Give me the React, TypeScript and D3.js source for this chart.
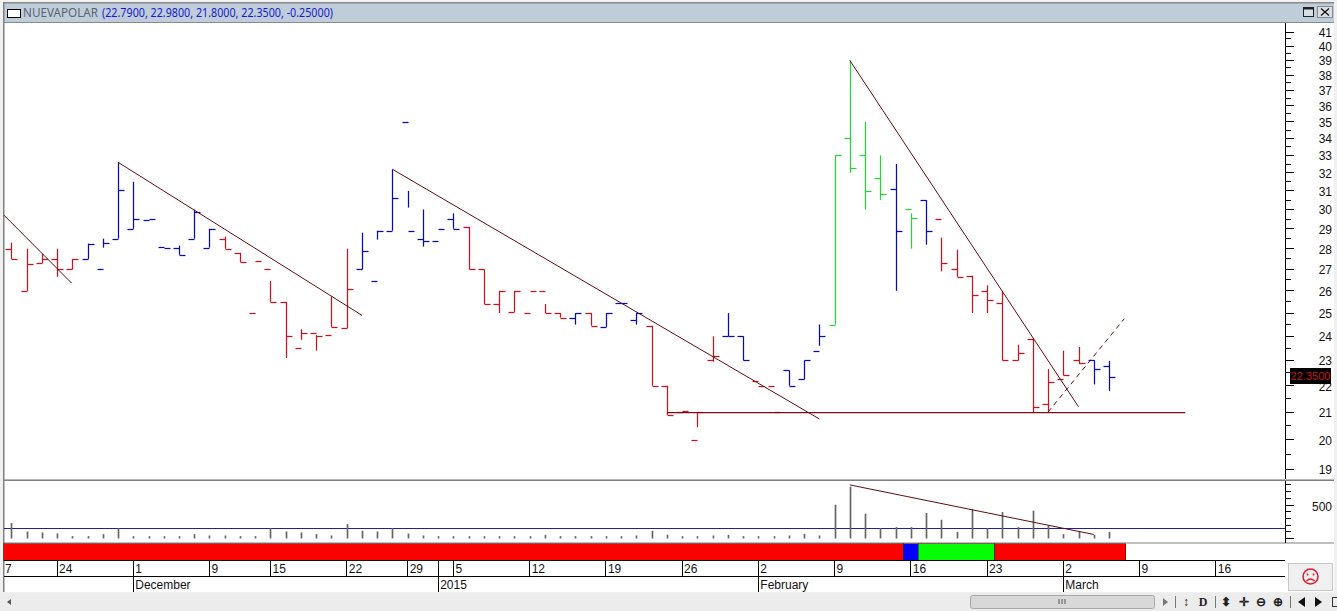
import * as d3 from 'd3';
import * as React from 'react';

const title = 'NUEVAPOLAR';
const titleValues = '(22.7900, 22.9800, 21.8000, 22.3500, -0.25000)';
const lastPrice = 22.35;

const opens = [28, 26, 27.3, 27.5, 27, 27.5, 27, 28.5, 29, 29.45, 28.1, 28.05, 28.5, 28.05, 28.5, 27.8, 25, 27, 25.5, 23.5, 24.15, 24.05, 24.35, 27, 26.45, 28.9, 35, 28.5, 28.4, 29.5, 29.1, 27, 25.4, 25.05, 25, 26, 25, 24.8, 25, 24.4, 25.45, 24.7, 24.45, 22, 21, 20, 23, 24, 24, 22.2, 22, 22.6, 22.25, 23.4, 24.5, 34, 33, 31.7, 31.1, 30, 30.5, 29.5, 27, 26.7, 26, 25.45, 23, 23.9, 21.3, 22.25, 23, 23, 22.79];
const highs = [28.3, 28, 27.75, 28, 27.5, 28.25, 28.5, 32.6, 31.5, 29.5, 28.1, 28.15, 30, 29, 28.6, 27.8, 27.4, 26.45, 25.5, 24.3, 24.05, 25.75, 28, 28.8, 28.9, 32.2, 31, 30, 29, 29.8, 29.1, 27, 26, 26, 26, 25.4, 25, 25, 25, 25, 25.45, 25, 24.45, 22, 21.05, 21, 24, 25, 24, 22, 21, 22.6, 23, 24.5, 33, 39, 35, 33, 32.5, 29.8, 30.5, 28.55, 27.95, 26.7, 26.25, 26, 23.65, 23.9, 22.65, 23.4, 23.55, 23, 22.98];
const lows = [27.5, 26, 27.3, 26.65, 27, 27.5, 28.05, 28.5, 29, 29.5, 28.1, 27.7, 28.5, 28.05, 28, 27.35, 27.4, 25.5, 23.1, 23.85, 23.4, 24.4, 24.35, 27, 28.45, 28.9, 30.1, 28.1, 29, 29, 27, 25.4, 25, 25.05, 26, 25, 24.8, 24.5, 24.45, 24.4, 25.45, 24.5, 22, 20.9, 21.05, 20.45, 22.95, 24, 23, 22, 21, 22, 22.25, 23.6, 24.5, 32, 30, 30.5, 26, 28, 28.2, 26.9, 26.65, 25, 25, 23, 23, 21, 21, 22.4, 22.85, 22.05, 21.8];
const closes = [27.5, 27.25, 27.5, 27, 27.5, 28.25, 28.3, 31.05, 29.5, 29.5, 28.05, 27.7, 29.85, 29, 28, 27.35, 27.4, 25.5, 24, 24.15, 24, 24.4, 26.1, 27.9, 28.9, 30.6, 28.9, 28.4, 29, 29, 27, 25.4, 26, 26, 26, 25, 24.8, 25, 24.45, 25, 25.45, 25, 22, 20.9, 21.05, 21, 23.2, 24, 23, 22, 21, 22, 23, 24, 33, 32.3, 31, 30.85, 28.9, 29.55, 28.9, 27.3, 26.65, 25.8, 25.6, 23, 23.3, 21.2, 22.15, 22.4, 22.9, 22.65, 22.35];
const barStates = 'rrrrrbbbbbbbbbrrrrrrrrrbbbbbbbrrrrrrrbrbbbrrrrrbbrrbbbggggbgbrrrrrrrrrrbb';
const volumes = [230, 105, 90, 75, 35, 35, 65, 155, 35, 35, 35, 35, 65, 45, 45, 35, 35, 155, 105, 90, 65, 45, 215, 115, 105, 155, 75, 45, 35, 35, 35, 35, 35, 35, 35, 55, 35, 35, 35, 35, 35, 45, 115, 55, 35, 35, 45, 55, 35, 35, 35, 45, 70, 45, 505, 775, 370, 155, 170, 170, 380, 280, 100, 435, 155, 395, 170, 415, 195, 65, 105, 55, 100];

const priceTicks = d3.range(19, 42);
const priceMinorTicks = d3.range(19.5, 41.5, 1);
const volumeTicks = [0, 500];
const volumeMinorTicks = [100, 200, 300, 400, 600, 700, 800];
const volumeAverage = 150;

// [index, price, index, price]
const trendLines = [
  [-0.48, 29.7, 3.96, 26.35],
  [7, 32.6, 23, 24.9],
  [25, 32.2, 53, 20.75],
  [55, 39, 70, 21.2],
];
const supportLine = [43, 21, 77, 21];
const dashedLine = [68, 21, 73, 24.75];
const volumeTrend = [55, 800, 71, 60];

const bandRuns: [string, number][] = [['#ff0000', 59], ['#0000ff', 1], ['#00ff00', 5], ['#ff0000', 8.6]];

const weekLabels = ['24', '1', '9', '15', '22', '29', '', '5', '12', '19', '26', '2', '9', '16', '23', '2', '9', '16'];
const weekIndex = [3, 8, 13, 17, 22, 26, 28, 29, 34, 39, 44, 49, 54, 59, 64, 69, 74, 79];
const monthLabels = ['December', '2015', 'February', 'March'];
const monthIndex = [8, 28, 49, 69];

const stateColor = { r: '#c8141e', b: '#0a0ab4', g: '#28d23c' };
const axisFont = '"Liberation Sans", Arial, sans-serif';
const titleFont = '"Noto Sans", sans-serif';

const left = 4;
const right = 1285;

const x = d3.scaleLinear().domain([0, 72]).range([11.3, 1109]);
const y = d3.scaleLog().domain([19, 41]).range([469, 32]);
const yVol = d3.scaleLinear().domain([0, 500]).range([538.5, 505]);

// bars sit on whole pixels, the source chart has no sub-pixel drawing
const snap = (v: number) => Math.round(v) + 0.5;

const App = () => {
  const bars = opens.map((open, i) => ({
    i,
    open,
    high: highs[i],
    low: lows[i],
    close: closes[i],
    color: stateColor[barStates[i]],
  }));

  let bandStart = -0.5;
  const bands = bandRuns.map(([color, n]) => {
    const band = { color, x0: x(bandStart), x1: x(bandStart + n) };
    bandStart += n;
    return band;
  });

  const line = (l: number[], yScale: (v: number) => number) => ({
    x1: x(l[0]),
    y1: yScale(l[1]),
    x2: x(l[2]),
    y2: yScale(l[3]),
  });

  return (
    <svg
      width={1337}
      height={611}
      style={{ position: 'fixed', left: 0, top: 0, background: '#f0f0f0' }}
    >
      {/* window frame */}
      <rect x={3} y={2} width={1331} height={21} fill="#bfcddb" />
      <rect x={3} y={2} width={1331} height={1.5} fill="#8a8a8a" />
      <rect x={3} y={22} width={1331} height={1} fill="#8a8a8a" />
      <rect x={4} y={23} width={1330} height={456} fill="#fff" />
      <rect x={4} y={481} width={1330} height={62} fill="#fff" />
      <rect x={4} y={543} width={1330} height={49} fill="#fff" />
      <rect x={3} y={2} width={1.5} height={590} fill="#808080" />
      <rect x={3} y={479.5} width={1331} height={1.5} fill="#808080" />
      <rect x={3} y={542.5} width={1331} height={1} fill="#808080" />

      <rect x={7.5} y={9.5} width={13} height={8} fill="#fff" stroke="#000" strokeWidth={1} />
      <text x={23} y={17} fontFamily={titleFont} fontSize={12} fill="#5a6470" textLength={75} lengthAdjust="spacingAndGlyphs">{title}</text>
      <text x={102} y={17} fontFamily={titleFont} fontSize={12} fill="#1a1ac8" textLength={231} lengthAdjust="spacingAndGlyphs">{titleValues}</text>
      <rect x={1303.5} y={7.5} width={10} height={9} fill="#d8dee6" stroke="#222" />
      <rect x={1303.5} y={7.5} width={10} height={2} fill="#222" />
      <rect x={1317.5} y={6.5} width={15} height={11} fill="#d8dee6" stroke="#8a8a8a" />
      <path d="M1321 8.5L1329 15.5M1329 8.5L1321 15.5" stroke="#111" strokeWidth={1.3} />

      {/* price axis */}
      <g shapeRendering="crispEdges" stroke="#000">
        <line x1={right} x2={right} y1={23} y2={479} strokeWidth={1} />
        {priceTicks.map((t) => (
          <line key={t} x1={right} x2={1294} y1={y(t)} y2={y(t)} />
        ))}
        {priceMinorTicks.map((t) => (
          <line key={t} x1={right} x2={1291} y1={y(t)} y2={y(t)} />
        ))}
      </g>
      {priceTicks.map((t) => (
        <text key={t} x={1332} y={y(t) + 5} textAnchor="end" fontFamily={axisFont} fontSize={12} fill="#111">{t}</text>
      ))}
      <rect x={1290} y={368} width={41} height={16} fill="#000" />
      <text x={1310.5} y={y(lastPrice) + 3.5} textAnchor="middle" fontFamily={axisFont} fontSize={11} fill="#c8141e">
        {d3.format('.4f')(lastPrice)}
      </text>

      {/* ohlc bars */}
      <g strokeWidth={1.25}>
        {bars.map((b) => (
          <g key={b.i} stroke={b.color}>
            {b.high !== b.low && <line x1={snap(x(b.i))} x2={snap(x(b.i))} y1={y(b.high)} y2={y(b.low)} />}
            <line x1={snap(x(b.i)) - 6} x2={snap(x(b.i))} y1={snap(y(b.open))} y2={snap(y(b.open))} />
            <line x1={snap(x(b.i))} x2={snap(x(b.i)) + 6} y1={snap(y(b.close))} y2={snap(y(b.close))} />
          </g>
        ))}
      </g>

      {/* trend lines */}
      <g stroke="#5c0d12" strokeWidth={1} fill="none">
        {trendLines.map((l, i) => (
          <line key={i} {...line(l, y)} />
        ))}
        <line {...line(supportLine, y)} y1={snap(y(21))} y2={snap(y(21))} strokeWidth={1.25} stroke="#7a0c12" />
        <line {...line(dashedLine, y)} strokeDasharray="5 4" />
      </g>

      {/* volume */}
      <line x1={left} x2={right} y1={snap(yVol(volumeAverage))} y2={snap(yVol(volumeAverage))} stroke="#20209c" />
      {volumes.map((v, i) => (
        <line key={i} x1={snap(x(i))} x2={snap(x(i))} y1={yVol(0)} y2={yVol(v)} stroke="#666" strokeWidth={1.7} />
      ))}
      <line {...line(volumeTrend, yVol)} stroke="#5c0d12" strokeWidth={1} />
      <g shapeRendering="crispEdges" stroke="#000">
        <line x1={right} x2={right} y1={481} y2={543} />
        {volumeTicks.map((t) => (
          <line key={t} x1={right} x2={1294} y1={yVol(t)} y2={yVol(t)} />
        ))}
        {volumeMinorTicks.map((t) => (
          <line key={t} x1={right} x2={1291} y1={yVol(t)} y2={yVol(t)} />
        ))}
      </g>
      <text x={1332} y={511} textAnchor="end" fontFamily={axisFont} fontSize={12} fill="#111">500</text>

      {/* state band */}
      <g shapeRendering="crispEdges">
        {bands.map((b, i) => (
          <rect key={i} x={b.x0} y={543.5} width={b.x1 - b.x0} height={16.5} fill={b.color} stroke="#400" strokeWidth={0.5} />
        ))}
      </g>

      {/* date axis */}
      <g shapeRendering="crispEdges" stroke="#000">
        <line x1={left} x2={right} y1={560.5} y2={560.5} />
        <line x1={left} x2={right} y1={576.5} y2={576.5} />
        {weekIndex.map((d) => (
          <line key={d} x1={x(d)} x2={x(d)} y1={561} y2={576} />
        ))}
        {monthIndex.map((d) => (
          <line key={d} x1={x(d)} x2={x(d)} y1={561} y2={592} />
        ))}
      </g>
      <g fontFamily={axisFont} fontSize={12} fill="#111">
        <text x={5} y={573}>7</text>
        {weekLabels.map((label, i) => (
          <text key={i} x={x(weekIndex[i]) + 2} y={573}>{label}</text>
        ))}
        {monthLabels.map((label, i) => (
          <text key={label} x={x(monthIndex[i]) + 2} y={589}>{label}</text>
        ))}
      </g>

      {/* sad face button */}
      <rect x={1288.5} y={563.5} width={44} height={27} fill="#f0f0f0" stroke="#c8c8c8" />
      <circle cx={1310.5} cy={576.5} r={7.5} fill="none" stroke="#e01830" strokeWidth={1.5} />
      <circle cx={1307.5} cy={574.5} r={1} fill="#e01830" />
      <circle cx={1313.5} cy={574.5} r={1} fill="#e01830" />
      <path d="M1306.5 581Q1310.5 577 1314.5 581" fill="none" stroke="#e01830" strokeWidth={1.3} />

      {/* scrollbar and toolbar */}
      <rect x={0} y={593} width={1337} height={18} fill="#ececec" />
      <path d="M11 599L7 602L11 605Z" fill="#555" />
      <rect x={970.5} y={595.5} width={184} height={13} rx={2} fill="#d8d8d8" stroke="#a8a8a8" />
      <path d="M1059 599V604M1062 599V604M1065 599V604" stroke="#555" />
      <path d="M1163 598L1168 602L1163 606Z" fill="#777" />
      <g stroke="#777" shapeRendering="crispEdges">
        <line x1={1175} x2={1175} y1={596} y2={608} />
        <line x1={1215} x2={1215} y1={596} y2={608} />
        <line x1={1290} x2={1290} y1={596} y2={608} />
      </g>
      <g fontFamily={axisFont} fontSize={12} fontWeight="bold" fill="#222" textAnchor="middle">
        <text x={1186} y={606}>↕</text>
        <text x={1203} y={606} fontFamily='"Liberation Serif", serif'>D</text>
        <text x={1226} y={606}>⬍</text>
        <text x={1244} y={606}>✛</text>
        <text x={1261} y={606}>⊖</text>
        <text x={1278} y={606}>⊕</text>
      </g>
      <path d="M1305 597V607L1298 602Z" fill="#111" />
      <path d="M1315 597V607L1322 602Z" fill="#111" />
      <rect x={1332.5} y={597.5} width={5} height={9} fill="none" stroke="#333" />
    </svg>
  );
};

export default App;
